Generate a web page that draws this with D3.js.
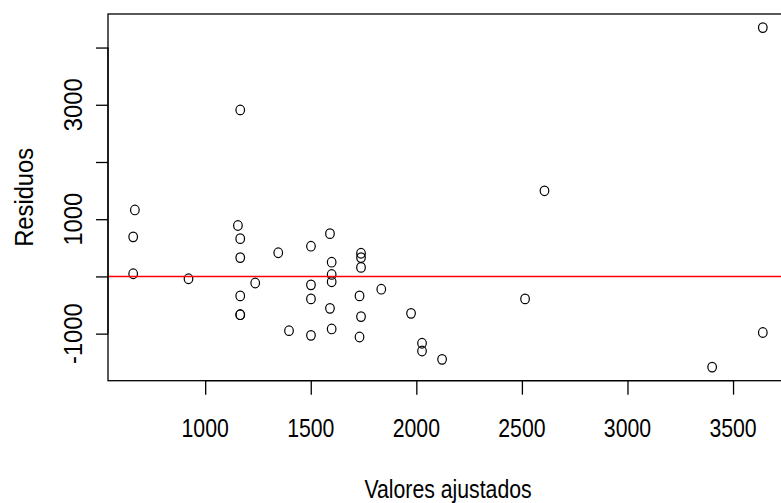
<!DOCTYPE html>
<html>
<head>
<meta charset="utf-8">
<script src="https://cdn.jsdelivr.net/npm/d3@7"></script>
<style>
  html, body { margin: 0; padding: 0; background: #ffffff; }
  svg { display: block; }
  text { font-family: "Liberation Sans", Arial, Helvetica, sans-serif; fill: #000; }
</style>
</head>
<body>
<svg id="chart" width="781" height="503"></svg>
<script>
// ---- data ----
const fitted = [667, 659, 659, 921, 1155, 1166, 1166, 1166, 1166, 1166, 1237, 1346, 1397,
  1501, 1501, 1501, 1501, 1591, 1599, 1599, 1599, 1591, 1599, 1738, 1738, 1738, 1731, 1738,
  1731, 1834, 1975, 2027, 2027, 2122, 2607, 2515, 3401, 3641, 3641, 1166];
const residuals = [1162, 692, 47, -41, 890, 660, 329, -340, -669, -669, -115, 414, -948,
  528, -147, -393, -1030, 748, 249, 35, -94, -558, -918, 405, 329, 158, -340, -702,
  -1059, -223, -645, -1168, -1303, -1449, 1496, -393, -1585, -980, 4349, 2910];
const xTicks = [1000, 1500, 2000, 2500, 3000, 3500];
const yTicks = [-1000, 0, 1000, 2000, 3000, 4000];
const yTickLabels = ["-1000", "", "1000", "", "3000", ""];
const xTitle = "Valores ajustados";
const yTitle = "Residuos";
const refLine = [0];

// ---- layout ----
const plot = { left: 108, right: 788, top: 14, bottom: 380.7 };
const fontSize = 25;
const hScale = 0.85;

function padded(ext) {
  const p = (ext[1] - ext[0]) * 0.04;
  return [ext[0] - p, ext[1] + p];
}
const x = d3.scaleLinear().domain(padded(d3.extent(fitted))).range([plot.left, plot.right]);
const y = d3.scaleLinear().domain(padded(d3.extent(residuals))).range([plot.bottom, plot.top]);

const svg = d3.select("#chart");

// clip for plot region
svg.append("defs").append("clipPath").attr("id", "clip")
  .append("rect").attr("x", plot.left).attr("y", plot.top)
  .attr("width", plot.right - plot.left).attr("height", plot.bottom - plot.top);

// points
const pts = fitted.map((f, i) => ({ f, r: residuals[i] }));
svg.append("g").selectAll("ellipse").data(pts).join("ellipse")
  .attr("cx", d => x(d.f)).attr("cy", d => y(d.r))
  .attr("rx", 4.3).attr("ry", 4.8)
  .attr("fill", "none").attr("stroke", "#000").attr("stroke-width", 1.2);

// reference line
svg.append("g").attr("clip-path", "url(#clip)").selectAll("line").data(refLine).join("line")
  .attr("x1", plot.left).attr("x2", plot.right)
  .attr("y1", d => y(d)).attr("y2", d => y(d))
  .attr("stroke", "#ff0000").attr("stroke-width", 1.4);

// box
svg.append("rect").attr("x", plot.left).attr("y", plot.top)
  .attr("width", plot.right - plot.left).attr("height", plot.bottom - plot.top)
  .attr("fill", "none").attr("stroke", "#000").attr("stroke-width", 1.3);

// x axis
const xAxis = d3.axisBottom(x).tickValues(xTicks).tickSize(14).tickFormat("");
const gx = svg.append("g").attr("transform", `translate(0,${plot.bottom})`).call(xAxis);
gx.select(".domain").attr("d", `M${x(xTicks[0])},0H${x(xTicks[xTicks.length - 1])}`)
  .attr("stroke", "#000").attr("stroke-width", 1.3);
gx.selectAll(".tick line").attr("stroke", "#000").attr("stroke-width", 1.3);
svg.append("g").selectAll("text").data(xTicks).join("text")
  .attr("transform", d => `translate(${x(d)},436.7) scale(${hScale},1)`)
  .attr("text-anchor", "middle").attr("font-size", fontSize)
  .text(d => String(d));

// y axis
const yAxis = d3.axisLeft(y).tickValues(yTicks).tickSize(12).tickFormat("");
const gy = svg.append("g").attr("transform", `translate(${plot.left},0)`).call(yAxis);
gy.select(".domain").attr("d", `M0,${y(yTicks[0])}V${y(yTicks[yTicks.length - 1])}`)
  .attr("stroke", "#000").attr("stroke-width", 1.3);
gy.selectAll(".tick line").attr("stroke", "#000").attr("stroke-width", 1.3);
svg.append("g").selectAll("text").data(yTicks.map((v, i) => ({ v, l: yTickLabels[i] })))
  .join("text")
  .attr("transform", d => `translate(81.7,${y(d.v)}) rotate(-90) scale(0.95,1)`)
  .attr("text-anchor", "middle").attr("font-size", fontSize)
  .text(d => d.l);

// titles
svg.append("text")
  .attr("transform", `translate(${(plot.left + plot.right) / 2},498) scale(${hScale},1)`)
  .attr("text-anchor", "middle").attr("font-size", fontSize).text(xTitle);
svg.append("text")
  .attr("transform", `translate(33.3,${(plot.top + plot.bottom) / 2}) rotate(-90) scale(0.95,1)`)
  .attr("text-anchor", "middle").attr("font-size", fontSize).text(yTitle);
</script>
</body>
</html>
